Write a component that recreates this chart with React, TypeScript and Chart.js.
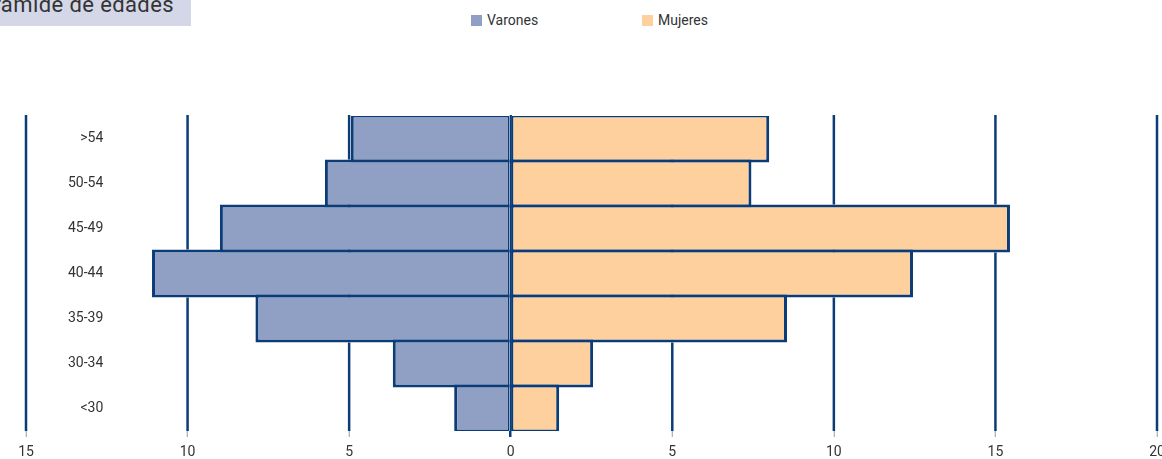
import React, { useEffect, useRef } from "react";
import { Chart, registerables } from "chart.js";

Chart.register(...registerables);

const title = "Pirámide de edades";
const categories = [">54", "50-54", "45-49", "40-44", "35-39", "30-34", "<30"];
const seriesNames = ["Varones", "Mujeres"];
const varones = [4.95, 5.75, 9.0, 11.1, 7.9, 3.65, 1.75];
const mujeres = [8.0, 7.45, 15.45, 12.45, 8.55, 2.55, 1.5];
const xTickValues = [-15, -10, -5, 0, 5, 10, 15, 20];

const NAVY = "#0b3c78";
const FILLS = ["#909fc4", "#fdd09e"];
const TEXT = "#333333";
const FONT = "Roboto, 'Noto Sans', sans-serif";
const legendLefts = [471, 642];

// Draws the vertical grid lines of the x scale, only where no bar is.
const gridUnderBars = {
  id: "gridUnderBars",
  beforeDatasetsDraw(chart: any) {
    const { ctx, chartArea } = chart;
    const x = chart.scales.x;
    ctx.save();
    ctx.beginPath();
    ctx.rect(0, 0, chart.width, chart.height);
    chart.getSortedVisibleDatasetMetas().forEach((meta: any) => {
      meta.data.forEach((bar: any) => {
        const p = bar.getProps(["x", "y", "base", "height"], true);
        const left = Math.min(p.x, p.base);
        const right = Math.max(p.x, p.base);
        ctx.rect(left, p.y - p.height / 2, right - left, p.height);
      });
    });
    ctx.clip("evenodd");
    ctx.strokeStyle = NAVY;
    ctx.lineWidth = 2.5;
    x.ticks.forEach((t: any) => {
      const px = x.getPixelForValue(t.value);
      ctx.beginPath();
      ctx.moveTo(px, chartArea.top - 1);
      ctx.lineTo(px, chartArea.bottom);
      ctx.stroke();
    });
    ctx.restore();
  },
};

export default function App() {
  const ref = useRef<HTMLCanvasElement>(null);

  useEffect(() => {
    Chart.defaults.font.family = FONT;
    const chart = new Chart(ref.current as HTMLCanvasElement, {
      type: "bar",
      data: {
        labels: categories,
        datasets: [
          {
            label: seriesNames[0],
            data: varones.map((v) => -v),
            backgroundColor: FILLS[0],
            borderColor: NAVY,
            borderWidth: { top: 3, bottom: 3, left: 3, right: 1.5 },
            borderSkipped: false,
            inflateAmount: 0,
            barPercentage: 1.067,
            categoryPercentage: 1,
          } as any,
          {
            label: seriesNames[1],
            data: mujeres,
            backgroundColor: FILLS[1],
            borderColor: NAVY,
            borderWidth: { top: 3, bottom: 3, left: 1.5, right: 3 },
            borderSkipped: false,
            inflateAmount: 0,
            barPercentage: 1.067,
            categoryPercentage: 1,
          } as any,
        ],
      },
      options: {
        indexAxis: "y",
        responsive: false,
        animation: false,
        events: [],
        layout: { padding: { left: 26, right: 5, top: 116, bottom: 0 } },
        plugins: {
          legend: { display: false },
          tooltip: { enabled: false },
          title: { display: false },
        },
        scales: {
          x: {
            type: "linear",
            stacked: true,
            min: -15,
            max: 20,
            afterBuildTicks: (s: any) => {
              s.ticks = xTickValues.map((v) => ({ value: v }));
            },
            afterFit: (s: any) => {
              s.height = 28;
              s.paddingLeft = 0;
              s.paddingRight = 0;
            },
            border: { display: false },
            grid: {
              drawOnChartArea: false,
              color: NAVY,
              lineWidth: 2.5,
              tickLength: 6,
              tickColor: (ctx: any) => (ctx.tick && ctx.tick.value === 0 ? NAVY : "#9a9a9a"),
              tickWidth: (ctx: any) => (ctx.tick && ctx.tick.value === 0 ? 2.5 : 1),
            },
            ticks: {
              font: { size: 14 },
              color: TEXT,
              padding: 7,
              maxRotation: 0,
              autoSkip: false,
              callback: (v: any) => String(Math.abs(Number(v))),
            },
          },
          y: {
            type: "category",
            stacked: true,
            afterFit: (s: any) => {
              s.width = 0;
              s.paddingTop = 0;
              s.paddingBottom = 0;
            },
            border: { display: false },
            grid: { display: false },
            ticks: {
              mirror: true,
              crossAlign: "far",
              padding: 42,
              font: { size: 14 },
              color: TEXT,
            },
          },
        },
      } as any,
      plugins: [gridUnderBars],
    });
    return () => chart.destroy();
  }, []);

  return (
    <div
      style={{
        position: "fixed",
        left: 0,
        top: 0,
        width: 1162,
        height: 459,
        overflow: "hidden",
        background: "#ffffff",
        fontFamily: FONT,
      }}
    >
      <div
        style={{
          position: "absolute",
          left: 0,
          top: 0,
          width: 191,
          height: 26,
          background: "#d3d7e8",
          overflow: "hidden",
        }}
      >
        <span
          style={{
            position: "absolute",
            right: 17,
            top: -6,
            fontSize: 22,
            lineHeight: "22px",
            whiteSpace: "nowrap",
            color: TEXT,
            letterSpacing: 0.4,
          }}
        >
          {title}
        </span>
      </div>
      {seriesNames.map((name, i) => (
        <div
          key={name}
          style={{
            position: "absolute",
            left: legendLefts[i],
            top: 15,
            height: 11,
            display: "flex",
            alignItems: "center",
            whiteSpace: "nowrap",
          }}
        >
          <span style={{ display: "inline-block", width: 11, height: 11, background: FILLS[i] }} />
          <span style={{ marginLeft: 5, fontSize: 14, color: TEXT, lineHeight: "11px" }}>{name}</span>
        </div>
      ))}
      <canvas
        ref={ref}
        width={1162}
        height={459}
        style={{ position: "absolute", left: 0, top: 0, width: 1162, height: 459 }}
      />
    </div>
  );
}
